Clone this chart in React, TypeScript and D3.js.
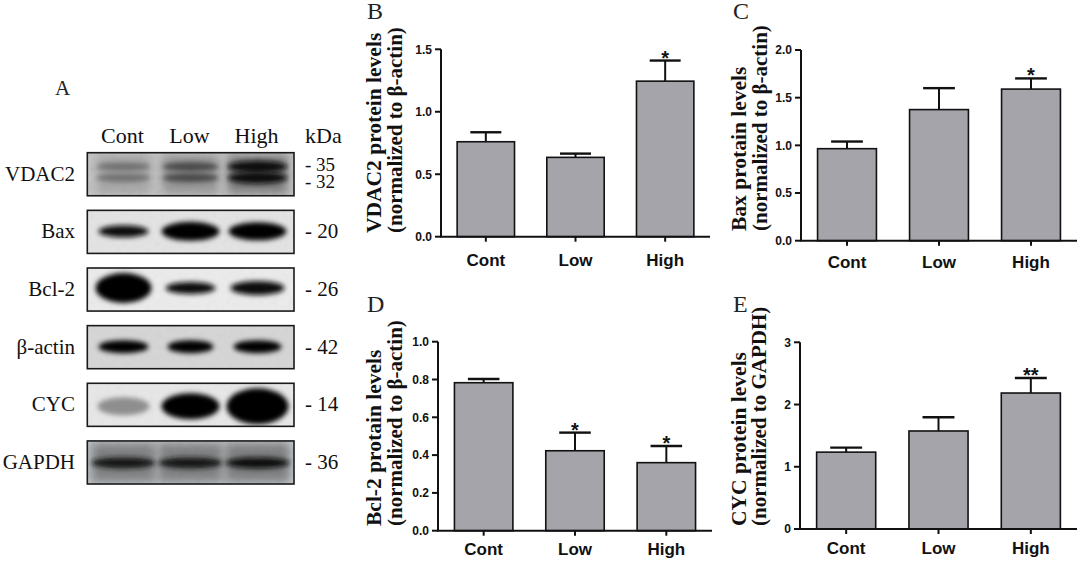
import React from "react";
import * as d3 from "d3";

// ---------- data ----------
const groups = ["Cont", "Low", "High"];

const vdac2Mean = [0.76, 0.635, 1.245];
const vdac2Err = [0.076, 0.03, 0.165];
const vdac2Sig = ["", "", "*"];
const vdac2Ticks = [0, 0.5, 1.0, 1.5];

const baxMean = [0.965, 1.375, 1.59];
const baxErr = [0.075, 0.225, 0.112];
const baxSig = ["", "", "*"];
const baxTicks = [0, 0.5, 1.0, 1.5, 2.0];

const bcl2Mean = [0.783, 0.423, 0.36];
const bcl2Err = [0.02, 0.096, 0.088];
const bcl2Sig = ["", "*", "*"];
const bcl2Ticks = [0, 0.2, 0.4, 0.6, 0.8, 1.0];

const cycMean = [1.235, 1.575, 2.185];
const cycErr = [0.072, 0.22, 0.242];
const cycSig = ["", "", "**"];
const cycTicks = [0, 1, 2, 3];

// western blot (panel A)
const blotRows = ["VDAC2", "Bax", "Bcl-2", "β-actin", "CYC", "GAPDH"];
const blotKDa = [["35", "32"], ["20"], ["26"], ["42"], ["14"], ["36"]];
const bandDarkness = [
  [0.5, 0.68, 0.95],
  [0.95, 1, 1],
  [1, 0.95, 0.95],
  [1, 1, 1],
  [0.35, 1, 1],
  [0.92, 0.92, 0.95],
];
const bandWidths = [
  [54, 56, 60],
  [50, 58, 58],
  [56, 50, 54],
  [50, 46, 48],
  [52, 58, 62],
  [64, 64, 64],
];
const bandHeights = [
  [8, 9, 12],
  [12, 19, 18],
  [30, 12, 14],
  [13, 13, 13],
  [18, 26, 36],
  [11, 11, 11],
];
const bandOffsets = [[14, 25], [21], [20], [21], [23], [22]];
const blotBg = ["#c4c4c4", "#e4e4e4", "#ececec", "#d6d6d6", "#e8e8e8", "#c4c9cd"];

const SERIF = "'Liberation Serif', 'Times New Roman', Times, serif";
const SANS = "'Liberation Sans', Arial, Helvetica, sans-serif";

type PanelProps = {
  letter: string;
  letterX: number;
  letterY: number;
  axisX: number;
  axisEnd: number;
  y0: number;
  yTop: number;
  max: number;
  ticks: number[];
  fmt: string;
  means: number[];
  errs: number[];
  sig: string[];
  title1: string;
  title2: string;
  t1x: number;
  t2x: number;
  titleY: number;
  labelDy: number;
};

function BarPanel(p: PanelProps) {
  const x = d3
    .scaleBand<string>()
    .domain(groups)
    .range([p.axisX, p.axisEnd])
    .paddingInner(0.36)
    .paddingOuter(0.18);
  const y = d3.scaleLinear().domain([0, p.max]).range([p.y0, p.yTop]);
  const bw = x.bandwidth();
  const f = d3.format(p.fmt);
  const cap = bw * 0.27;
  return (
    <g>
      <text x={p.letterX} y={p.letterY} fontFamily={SERIF} fontSize={24} fill="#222">
        {p.letter}
      </text>
      {groups.map((g, i) => {
        const cx = (x(g) as number) + bw / 2;
        const top = y(p.means[i]);
        const et = y(p.means[i] + p.errs[i]);
        return (
          <g key={g}>
            <line x1={cx} x2={cx} y1={top} y2={et} stroke="#111" strokeWidth={2} />
            <line x1={cx - cap} x2={cx + cap} y1={et} y2={et} stroke="#111" strokeWidth={2.4} />
            <rect
              x={x(g)}
              y={top}
              width={bw}
              height={y(0) - top}
              fill="#a5a4aa"
              stroke="#111"
              strokeWidth={1.6}
            />
            {p.sig[i] && (
              <text
                x={cx}
                y={et + 4}
                textAnchor="middle"
                fontFamily={SANS}
                fontWeight="bold"
                fontSize={20}
                fill="#111"
              >
                {p.sig[i]}
              </text>
            )}
            <line x1={cx} x2={cx} y1={y(0)} y2={y(0) + 5} stroke="#111" strokeWidth={2} />
            <text
              x={cx}
              y={y(0) + p.labelDy}
              textAnchor="middle"
              fontFamily={SANS}
              fontWeight="bold"
              fontSize={17}
              fill="#111"
            >
              {g}
            </text>
          </g>
        );
      })}
      {/* axes */}
      <line x1={p.axisX} x2={p.axisX} y1={y(0)} y2={y(p.max)} stroke="#111" strokeWidth={2} />
      <line x1={p.axisX - 1} x2={p.axisEnd} y1={y(0)} y2={y(0)} stroke="#111" strokeWidth={2} />
      {p.ticks.map((t) => (
        <g key={t}>
          <line x1={p.axisX - 6} x2={p.axisX} y1={y(t)} y2={y(t)} stroke="#111" strokeWidth={2} />
          <text
            x={p.axisX - 9}
            y={y(t)}
            dy="0.36em"
            textAnchor="end"
            fontFamily={SANS}
            fontWeight="bold"
            fontSize={12}
            fill="#111"
          >
            {f(t)}
          </text>
        </g>
      ))}
      <text
        transform={`translate(${p.t1x},${p.titleY}) rotate(-90)`}
        fontFamily={SERIF}
        fontWeight="bold"
        fontSize={21.5}
        fill="#111"
      >
        {p.title1}
      </text>
      <text
        transform={`translate(${p.t2x},${p.titleY}) rotate(-90)`}
        fontFamily={SERIF}
        fontWeight="bold"
        fontSize={21}
        fill="#111"
      >
        {p.title2}
      </text>
    </g>
  );
}

function Blot() {
  const rowY = d3.scaleBand<string>().domain(blotRows).range([152.7, 484]).paddingInner(0.253).paddingOuter(0);
  const lane = d3.scaleBand<string>().domain(groups).range([90, 291]);
  const bx0 = 87.3;
  const bx1 = 294;
  const rh = rowY.bandwidth();
  const shade = d3.scaleLinear<string>().domain([0, 1]).range(["#d8d8d8", "#050505"]);
  return (
    <g>
      <defs>
        <filter id="bandBlur" x="-30%" y="-60%" width="160%" height="220%">
          <feGaussianBlur stdDeviation="2.6" />
        </filter>
        <filter id="softBlur" x="-30%" y="-60%" width="160%" height="220%">
          <feGaussianBlur stdDeviation="5" />
        </filter>
        <filter id="grain" x="0" y="0" width="100%" height="100%">
          <feTurbulence type="fractalNoise" baseFrequency="0.18" numOctaves="2" seed="7" />
          <feColorMatrix type="saturate" values="0" />
        </filter>
        {blotRows.map((r, i) => (
          <clipPath id={`clip${i}`} key={r}>
            <rect x={bx0} y={rowY(r)} width={bx1 - bx0} height={rh} />
          </clipPath>
        ))}
      </defs>
      <text x={55} y={94.5} fontFamily={SERIF} fontSize={21} fill="#222">
        A
      </text>
      {groups.map((g) => (
        <text
          key={g}
          x={(lane(g) as number) + lane.bandwidth() / 2 - 1}
          y={142.7}
          textAnchor="middle"
          fontFamily={SERIF}
          fontSize={22}
          fill="#111"
        >
          {g}
        </text>
      ))}
      <text x={305} y={142.7} fontFamily={SERIF} fontSize={22} fill="#111">
        kDa
      </text>
      {blotRows.map((r, i) => {
        const top = rowY(r) as number;
        const multi = blotKDa[i].length > 1;
        return (
          <g key={r}>
            <g clipPath={`url(#clip${i})`}>
              <rect x={bx0} y={top} width={bx1 - bx0} height={rh} fill={blotBg[i]} />
              <rect
                x={bx0}
                y={top}
                width={bx1 - bx0}
                height={rh}
                filter="url(#grain)"
                opacity={i === 0 || i === 5 ? 0.22 : 0.08}
              />
              {groups.map((g, j) => {
                const cx = (lane(g) as number) + lane.bandwidth() / 2;
                const d = bandDarkness[i][j];
                return (
                  <g key={g}>
                    {(i === 0 || i === 5) && (
                      <rect
                        x={cx - bandWidths[i][j] / 2}
                        y={top + 2}
                        width={bandWidths[i][j]}
                        height={rh - 4}
                        fill={shade(d * 0.6)}
                        opacity={0.7}
                        filter="url(#softBlur)"
                      />
                    )}
                    {bandOffsets[i].map((off, k) => (
                      <ellipse
                        key={k}
                        cx={cx}
                        cy={top + off}
                        rx={bandWidths[i][j] / 2}
                        ry={bandHeights[i][j] / 2}
                        fill={shade(d)}
                        filter="url(#bandBlur)"
                      />
                    ))}
                  </g>
                );
              })}
            </g>
            <rect
              x={bx0}
              y={top}
              width={bx1 - bx0}
              height={rh}
              fill="none"
              stroke="#1a1a1a"
              strokeWidth={1.6}
            />
            <text
              x={75}
              y={top + 28}
              textAnchor="end"
              fontFamily={SERIF}
              fontSize={21}
              fill="#111"
            >
              {r}
            </text>
            {blotKDa[i].map((k, m) => (
              <text
                key={k}
                x={305}
                y={multi ? top + 18.5 + m * 16.5 : top + 28}
                fontFamily={SERIF}
                fontSize={multi ? 19 : 21}
                fill="#111"
              >
                {`- ${k}`}
              </text>
            ))}
          </g>
        );
      })}
    </g>
  );
}

export default function App() {
  return (
    <div style={{ position: "absolute", left: 0, top: 0, width: 1080, height: 562, background: "#fff" }}>
      <svg width={1080} height={562} viewBox="0 0 1080 562" style={{ display: "block" }}>
        <rect width={1080} height={562} fill="#fff" />
        <Blot />
        <BarPanel
          letter="B"
          letterX={367}
          letterY={19}
          axisX={441}
          axisEnd={710}
          y0={236.7}
          yTop={49.3}
          max={1.5}
          ticks={vdac2Ticks}
          fmt=".1f"
          means={vdac2Mean}
          errs={vdac2Err}
          sig={vdac2Sig}
          title1="VDAC2 protein levels"
          title2="(normalized to β-actin)"
          t1x={381}
          t2x={402}
          titleY={233}
          labelDy={29}
        />
        <BarPanel
          letter="C"
          letterX={733}
          letterY={19}
          axisX={801}
          axisEnd={1077}
          y0={240.7}
          yTop={50}
          max={2.0}
          ticks={baxTicks}
          fmt=".1f"
          means={baxMean}
          errs={baxErr}
          sig={baxSig}
          title1="Bax protain levels"
          title2="(normalized to β-actin)"
          t1x={746}
          t2x={767}
          titleY={231}
          labelDy={27}
        />
        <BarPanel
          letter="D"
          letterX={367}
          letterY={312}
          axisX={438}
          axisEnd={712}
          y0={530.7}
          yTop={341.7}
          max={1.0}
          ticks={bcl2Ticks}
          fmt=".1f"
          means={bcl2Mean}
          errs={bcl2Err}
          sig={bcl2Sig}
          title1="Bcl-2 protain levels"
          title2="(normalized to β-actin)"
          t1x={381}
          t2x={402}
          titleY={526}
          labelDy={24}
        />
        <BarPanel
          letter="E"
          letterX={733}
          letterY={312}
          axisX={800}
          axisEnd={1077}
          y0={529}
          yTop={342.3}
          max={3}
          ticks={cycTicks}
          fmt="d"
          means={cycMean}
          errs={cycErr}
          sig={cycSig}
          title1="CYC protein levels"
          title2="(normalized to GAPDH)"
          t1x={746}
          t2x={766}
          titleY={526}
          labelDy={25}
        />
      </svg>
    </div>
  );
}
